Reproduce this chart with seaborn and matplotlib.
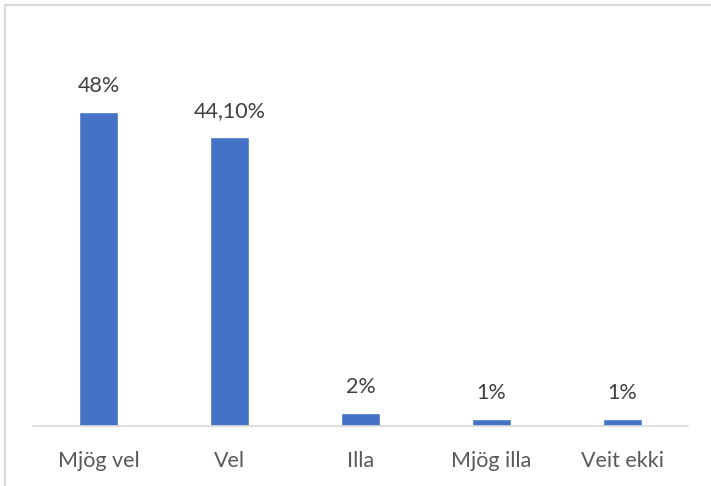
import matplotlib
matplotlib.use("Agg")
import matplotlib.pyplot as plt
import seaborn as sns
import pandas as pd
from matplotlib.lines import Line2D

categories = ["Mjög vel", "Vel", "Illa", "Mjög illa", "Veit ekki"]
values = [48, 44.1, 2, 1, 1]
value_labels = ["48%", "44,10%", "2%", "1%", "1%"]

sns.set_theme(style="white")
plt.rcParams['font.family'] = ['Lato', 'DejaVu Sans']

df = pd.DataFrame({"cat": categories, "val": values})

fig = plt.figure(figsize=(7.11, 4.86), dpi=100)
ax = fig.add_axes([33/711, 60/486, 655/711, 393/486])
sns.barplot(data=df, x="cat", y="val", color="#4472C4", width=0.305,
            saturation=1, ax=ax, order=categories)

ax.set_ylim(0, 60)
ax.set_xlim(-0.5, len(categories) - 0.5)
ax.set_xlabel("")
ax.set_ylabel("")
ax.set_yticks([])
for s in ["top", "right", "left"]:
    ax.spines[s].set_visible(False)
ax.spines["bottom"].set_color("#d9d9d9")
ax.spines["bottom"].set_linewidth(1.2)
ax.tick_params(axis="x", length=0, pad=18, labelsize=15.5, labelcolor="#595959")

for p, lab in zip(ax.patches, value_labels):
    ax.annotate(lab, (p.get_x() + p.get_width() / 2, p.get_height()),
                xytext=(0, 11.5), textcoords="offset points",
                ha="center", va="bottom", fontsize=15.5, color="#404040")

# outer chart frame (cropped at right and bottom)
fig.add_artist(Line2D([4.5/711, 1.0], [1 - 5/486, 1 - 5/486],
                      transform=fig.transFigure, color="#d9d9d9", linewidth=1.5))
fig.add_artist(Line2D([4.5/711, 4.5/711], [0.0, 1 - 5/486],
                      transform=fig.transFigure, color="#d9d9d9", linewidth=1.5))

fig.savefig("out.png", dpi=100)
